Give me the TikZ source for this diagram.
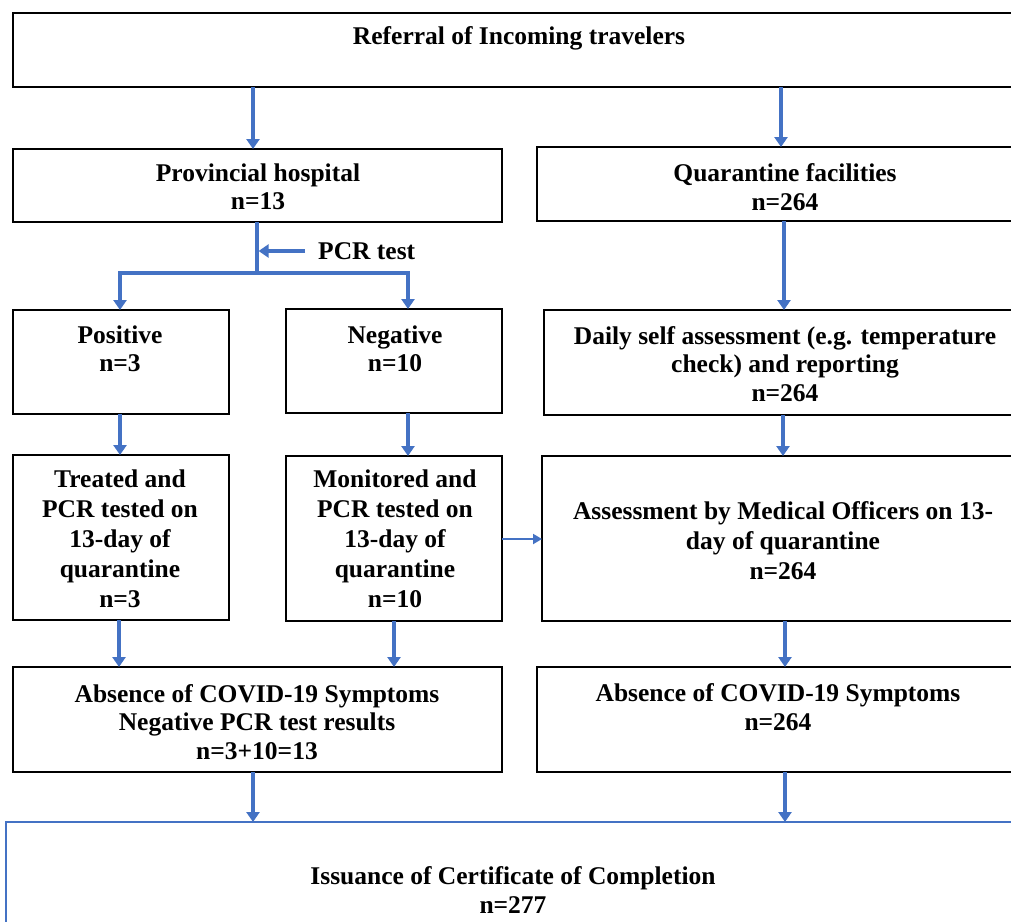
\documentclass[tikz,border=0pt]{standalone}
\usepackage{fontspec}
\setmainfont{Liberation Serif}
\usetikzlibrary{arrows.meta}
\definecolor{arrowblue}{RGB}{68,114,196}
\begin{document}
\begin{tikzpicture}[x=1pt,y=-1pt,
  box/.style={draw=black, line width=2pt, rectangle, inner sep=0pt, outer sep=0pt},
  finalbox/.style={draw=arrowblue, line width=1.5pt, rectangle, inner sep=0pt, outer sep=0pt},
  txt/.style={font=\fontsize{25.5}{28.5}\selectfont\bfseries, align=center, inner sep=0pt},
  txtwide/.style={font=\fontsize{25.5}{30}\selectfont\bfseries, align=center, inner sep=0pt},
  arr/.style={draw=arrowblue, line width=3.2pt, -{Triangle[length=10pt,width=13pt]}},
  thinarr/.style={draw=arrowblue, line width=2pt, -{Triangle[length=9pt,width=10pt]}},
  conn/.style={draw=arrowblue, line width=3.2pt}]
\useasboundingbox (0,0) rectangle (1011,921);
\fill[white] (0,0) rectangle (1011,921);

% boxes
\node[box, minimum width=1012pt, minimum height=74pt] (top) at (519,50) {};
\node[box, minimum width=489pt, minimum height=73pt] (prov) at (257.5,185.5) {};
\node[box, minimum width=496pt, minimum height=74pt] (quar) at (785,184) {};
\node[box, minimum width=216pt, minimum height=104pt] (pos) at (121,362) {};
\node[box, minimum width=216pt, minimum height=104pt] (neg) at (394,361) {};
\node[box, minimum width=482pt, minimum height=105pt] (daily) at (785,362.5) {};
\node[box, minimum width=216pt, minimum height=165pt] (treat) at (121,537.5) {};
\node[box, minimum width=216pt, minimum height=165pt] (mon) at (394,538.5) {};
\node[box, minimum width=482pt, minimum height=165pt] (assess) at (783,538.5) {};
\node[box, minimum width=489pt, minimum height=105pt] (absL) at (257.5,719.5) {};
\node[box, minimum width=496pt, minimum height=105pt] (absR) at (785,719.5) {};
\node[finalbox, minimum width=1019pt, minimum height=138pt] (final) at (515.5,891) {};

% texts
\node[txt] (topT) at (519,38) {Referral of Incoming travelers};
\node[txt] (provT) at (258,187) {Provincial hospital\\n=13};
\node[txt] (quarT) at (785,187) {Quarantine facilities\\n=264};
\node[txt, anchor=west] (pcr) at (318,251) {PCR test};
\node[txt] (posT) at (120,349) {Positive\\n=3};
\node[txt] (negT) at (395,349) {Negative\\n=10};
\node[txt] (dailyT) at (785,364) {Daily self assessment (e.g. temperature\\check) and reporting\\n=264};
\node[txtwide] (treatT) at (120,539) {Treated and\\PCR tested on\\13-day of\\quarantine\\n=3};
\node[txtwide] (monT) at (395,539) {Monitored and\\PCR tested on\\13-day of\\quarantine\\n=10};
\node[txtwide] (assessT) at (783,541) {Assessment by Medical Officers on 13-\\day of quarantine\\n=264};
\node[txt] (absLT) at (257,722) {Absence of COVID-19 Symptoms\\Negative PCR test results\\n=3+10=13};
\node[txt] (absRT) at (778,707) {Absence of COVID-19 Symptoms\\n=264};
\node[txt] (finalT) at (513,890) {Issuance of Certificate of Completion\\n=277};

% connectors
\coordinate (split) at (257,273);
\draw[arr] (253,0 |- top.south) -- (253,0 |- prov.north);
\draw[arr] (781,0 |- top.south) -- (781,0 |- quar.north);
\draw[conn] (split |- prov.south) -- (split);
\draw[arr] ([xshift=-13pt]pcr.west) -- ([xshift=1.6pt]split |- pcr.west);
\draw[arr] (split) -| (120,0 |- pos.north);
\draw[arr] (split) -| (408,0 |- neg.north);
\draw[arr] (784,0 |- quar.south) -- (784,0 |- daily.north);
\draw[arr] (120,0 |- pos.south) -- (120,0 |- treat.north);
\draw[arr] (408,0 |- neg.south) -- (408,0 |- mon.north);
\draw[arr] (783,0 |- daily.south) -- (783,0 |- assess.north);
\draw[thinarr] (mon.east |- 0,539) -- (assess.west |- 0,539);
\draw[arr] (119,0 |- treat.south) -- (119,0 |- absL.north);
\draw[arr] (394,0 |- mon.south) -- (394,0 |- absL.north);
\draw[arr] (785,0 |- assess.south) -- (785,0 |- absR.north);
\draw[arr] (253,0 |- absL.south) -- (253,0 |- final.north);
\draw[arr] (785,0 |- absR.south) -- (785,0 |- final.north);
\end{tikzpicture}
\end{document}
